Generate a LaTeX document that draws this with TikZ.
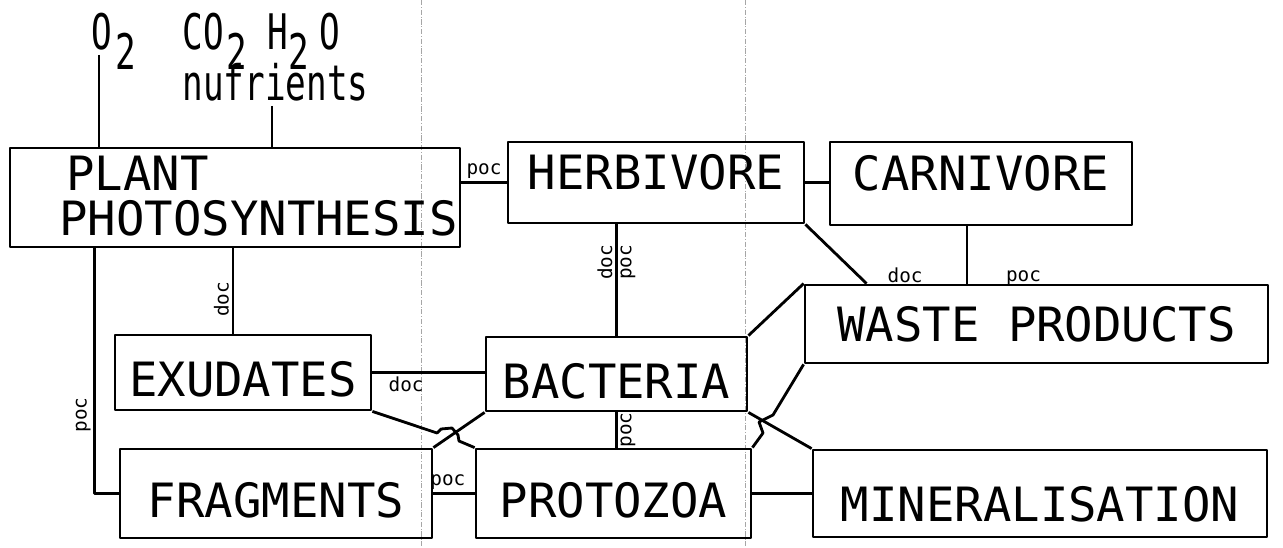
\documentclass[tikz,border=0pt]{standalone}
\usepackage{fontspec}
\newfontfamily\stencil{DejaVu Sans Mono}
\newcommand{\slimtext}[1]{\scalebox{0.7}[1]{#1}}
\newcommand{\lowtwo}{\raisebox{-11pt}[0pt][0pt]{2}}
\begin{document}
\begin{tikzpicture}[x=0.02cm,y=-0.02cm,line width=1.6pt,line join=round,
  box/.style={draw,inner sep=0pt,font=\stencil\fontsize{26.9}{25.6}\selectfont,text height=19.6pt,text depth=0pt},
  sz/.style 2 args={minimum width=#1*0.02cm,minimum height=#2*0.02cm},
  lowtext/.style={text height=27.6pt},
  hightext/.style={text depth=12pt},
  flow/.style={font=\stencil\fontsize{11}{12}\selectfont,inner sep=1.5pt},
  toplabel/.style={font=\stencil\fontsize{27.9}{28.5}\selectfont,inner sep=0pt,anchor=base west},
  fold/.style={gray!70,line width=0.5pt,densely dashdotted}]
\useasboundingbox (0,0) rectangle (1283,547);
% fold marks of the sheet
\draw[fold] (421,0) -- (421,547);
\draw[fold] (745,0) -- (745,547);
% inputs
\node[toplabel] (o2) at (90,50) {\slimtext{O\kern3pt\lowtwo}};
\node[toplabel] (gases) at (181,50) {\slimtext{CO\kern2.4pt\lowtwo\ H\lowtwo\kern8pt O}};
\node[toplabel] (nutrients) at (181,101) {\slimtext{nufrients}};
\coordinate (o2foot) at (99,55);
\coordinate (nutfoot) at (272,106);
% boxes
\node[box,sz={450}{99}] (plant) at (235,197.5) {};
\node[inner sep=0pt,anchor=west,align=left,font=\stencil\fontsize{26.9}{25.6}\selectfont] (plantname) at (58,196) {\hspace*{4pt}PLANT\\PHOTOSYNTHESIS};
\node[box,hightext,sz={296}{81}] (herb) at (656,182.5) {HERBIVORE};
\node[box,hightext,sz={302}{83}] (carn) at (981,183.5) {CARNIVORE};
\node[box,sz={463}{78}] (waste) at (1036.5,324) {WASTE PRODUCTS};
\node[box,lowtext,sz={256}{75}] (exud) at (243,372.5) {EXUDATES};
\node[box,lowtext,sz={261}{74}] (bact) at (616.5,374) {BACTERIA};
\node[box,lowtext,sz={312}{89}] (frag) at (276,493.5) {FRAGMENTS};
\node[box,lowtext,sz={275}{89}] (prot) at (613.5,493.5) {PROTOZOA};
\node[box,text height=32pt,sz={454}{87}] (mine) at (1040,493.5) {MINERALISATION};
% helper points on the box edges
\coordinate (exudtop) at ([xshift=-0.2cm]exud.north);
\coordinate (plantleg) at ([xshift=1.72cm]plant.south west);
\coordinate (carnfoot) at ([xshift=-0.28cm]carn.south);
\coordinate (wastein) at ([xshift=1.26cm]waste.north west);
% flows
\draw (o2foot) -- (o2foot |- plant.north);
\draw (nutfoot) -- (nutfoot |- plant.north);
\draw (plant.east |- herb.west) -- node[flow,above] (pocph) {poc} (herb.west);
\draw (herb.east) -- (herb.east -| carn.west);
\draw (herb.south -| bact.north) -- (bact.north)
  node[flow,rotate=90,anchor=south,pos=0.34] (dochb) {doc}
  node[flow,rotate=90,anchor=north,pos=0.34] (pochb) {poc};
\draw (exudtop |- plant.south) -- (exudtop) node[flow,rotate=90,anchor=south,pos=0.6] (docpe) {doc};
\draw (plantleg) |- (frag.west) node[flow,rotate=90,anchor=south,pos=0.34] (docpf) {poc};
\draw (exud.east) -- (exud.east -| bact.west) node[flow,below,pos=0.3] (doceb) {doc};
\draw (frag.east) -- (frag.east -| prot.west) node[flow,above,pos=0.35] (pocfp) {poc};
\draw (bact.south) -- (bact.south |- prot.north) node[flow,rotate=90,anchor=north,midway] (pocbp) {poc};
\draw (prot.east) -- (prot.east -| mine.west);
\draw (carnfoot) -- (carnfoot |- waste.north) node[flow,anchor=south west,xshift=0.7cm,yshift=-0.12cm] (poccw) {poc};
\draw (herb.south east) -- (wastein) node[flow,anchor=south west,xshift=0.34cm,yshift=-0.06cm] (dochw) {doc};
\draw (bact.north east) -- (waste.north west);
\draw (bact.south east) -- (mine.north west);
\draw (prot.north east) -- (763,433) -- (759,422) -- (773,415) -- (waste.south west);
\draw (frag.north east) -- (bact.south west);
\draw (exud.south east) -- (437,433) -- (441,429) -- (452,428) -- (458,435) -- (459,441) -- (prot.north west);
\end{tikzpicture}
\end{document}
